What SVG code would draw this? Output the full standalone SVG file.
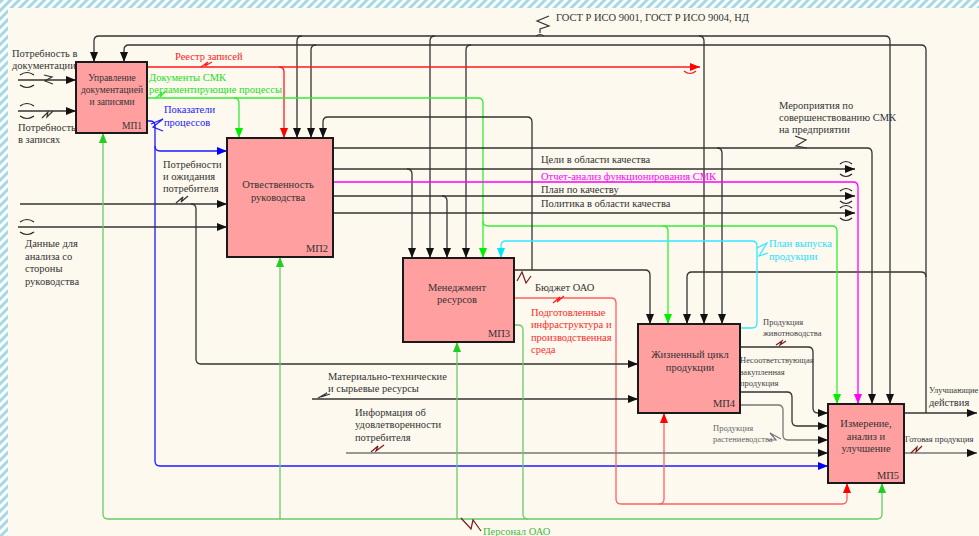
<svg xmlns="http://www.w3.org/2000/svg" width="979" height="536" viewBox="0 0 979 536">
<defs>
<pattern id="hatch" patternUnits="userSpaceOnUse" width="6" height="6" patternTransform="rotate(45)"><rect width="6" height="6" fill="#ffffff"/><line x1="1.5" y1="0" x2="1.5" y2="6" stroke="#a6d9e6" stroke-width="3"/></pattern>
<marker id="ak" viewBox="0 0 10 8" refX="10" refY="4" markerWidth="10" markerHeight="8" markerUnits="userSpaceOnUse" orient="auto"><path d="M0,0L10,4L0,8z" fill="#111"/></marker>
<marker id="ar" viewBox="0 0 10 8" refX="10" refY="4" markerWidth="10" markerHeight="8" markerUnits="userSpaceOnUse" orient="auto"><path d="M0,0L10,4L0,8z" fill="#ff0000"/></marker>
<marker id="ag" viewBox="0 0 10 8" refX="10" refY="4" markerWidth="10" markerHeight="8" markerUnits="userSpaceOnUse" orient="auto"><path d="M0,0L10,4L0,8z" fill="#00ee00"/></marker>
<marker id="ag2" viewBox="0 0 10 8" refX="10" refY="4" markerWidth="10" markerHeight="8" markerUnits="userSpaceOnUse" orient="auto"><path d="M0,0L10,4L0,8z" fill="#22cc22"/></marker>
<marker id="ab" viewBox="0 0 10 8" refX="10" refY="4" markerWidth="10" markerHeight="8" markerUnits="userSpaceOnUse" orient="auto"><path d="M0,0L10,4L0,8z" fill="#0000ff"/></marker>
<marker id="am" viewBox="0 0 10 8" refX="10" refY="4" markerWidth="10" markerHeight="8" markerUnits="userSpaceOnUse" orient="auto"><path d="M0,0L10,4L0,8z" fill="#ff00ff"/></marker>
<marker id="ac" viewBox="0 0 10 8" refX="10" refY="4" markerWidth="10" markerHeight="8" markerUnits="userSpaceOnUse" orient="auto"><path d="M0,0L10,4L0,8z" fill="#00e5ff"/></marker>
</defs>
<style>
.t{font-family:"Liberation Serif",serif;font-size:10.5px;fill:#333}
.bt{font-family:"Liberation Serif",serif;font-size:10.5px;fill:#333;text-anchor:middle}
.sm{font-size:9.5px}
.s{font-size:8.5px;fill:#444}
.e{font-size:8.5px}
.box{fill:#ff9f9f;stroke:#1a1a1a;stroke-width:2}
.c{fill:none;stroke-width:1.3}
.k{stroke:#333}
.kg{stroke:#777}
.r{stroke:#ff1a1a}
.rl{stroke:#ff6060}
.g{stroke:#33ee33}
.g2{stroke:#66cc66}
.b{stroke:#1a1aff}
.m{stroke:#ff00ff}
.cy{stroke:#33e8ff}
.sq{fill:none;stroke-width:1.2}
.tn{fill:none;stroke:#222;stroke-width:1.2}
</style>
<rect x="0" y="0" width="979" height="536" fill="#fdf9ef"/>
<rect x="0" y="0" width="979" height="8" fill="url(#hatch)"/>
<rect x="0" y="0" width="8" height="536" fill="url(#hatch)"/>

<g id="connectors">
<!-- ГОСТ control -->
<path class="c k" d="M540,36 H99 Q94,36 94,41 V62" marker-end="url(#ak)"/>
<path class="c k" d="M540,36 H885 Q890,36 890,41 V404" marker-end="url(#ak)"/>
<path class="c k" d="M302,36 Q297,36 297,41 V138" marker-end="url(#ak)"/>
<path class="c k" d="M435,36 Q430,36 430,41 V258" marker-end="url(#ak)"/>
<path class="c k" d="M699,36 Q704,36 704,41 V324" marker-end="url(#ak)"/>
<path class="sq k" d="M549,16 L537,21 L549,26 L540,29 V33 M536,36 Q540,33 544,36"/>
<!-- feedback: Улучшающие действия -->
<path class="c k" d="M904,413 H977" marker-end="url(#ak)"/>
<path class="c k" d="M926,413 V50 Q926,45 921,45 H129 Q124,45 124,50 V62" marker-end="url(#ak)"/>
<path class="c k" d="M316,45 Q311,45 311,50 V138" marker-end="url(#ak)"/>
<path class="c k" d="M471,45 Q466,45 466,50 V258" marker-end="url(#ak)"/>
<path class="c k" d="M926,277 Q926,272 921,272 H692 Q687,272 687,277 V324" marker-end="url(#ak)"/>
<!-- Реестр записей -->
<path class="c r" d="M147,67 H279 Q284,67 284,72 V138" marker-end="url(#ar)"/>
<path class="c r" d="M279,67 H700" marker-end="url(#ar)"/>
<path class="sq r" d="M684,71 Q690,76 696,71"/>
<path class="sq r" d="M201,67 L208,62 L205,66 L212,62"/>
<!-- Документы СМК -->
<path class="c g" d="M147,98 H478 Q483,98 483,103 V258" marker-end="url(#ag)"/>
<path class="c g" d="M234,98 Q239,98 239,103 V138" marker-end="url(#ag)"/>
<path class="c g" d="M483,221 Q483,226 488,226 H832 Q837,226 837,231 V404" marker-end="url(#ag)"/>
<path class="c g" d="M663,226 Q668,226 668,231 V324" marker-end="url(#ag)"/>
<path class="sq g" d="M156,98 L162,92 L160,97 L166,91"/>
<!-- Показатели процессов -->
<path class="c b" d="M147,121 H150 Q155,121 155,126 V461 Q155,466 160,466 H828" marker-end="url(#ab)"/>
<path class="c b" d="M155,146 Q155,151 160,151 H227" marker-end="url(#ab)"/>
<path class="sq b" d="M151,124 L163,119 L153,127 L163,131"/>
<!-- outputs of МП2 -->
<path class="c k" d="M333,148 H867 Q872,148 872,153 V404" marker-end="url(#ak)"/>
<path class="c k" d="M717,148 Q722,148 722,153 V324" marker-end="url(#ak)"/>
<path class="sq k" d="M795,136 L806,140 L796,146 L807,148"/>
<path class="c k" d="M333,169 H855" marker-end="url(#ak)"/>
<path class="c k" d="M407,169 Q412,169 412,174 V258" marker-end="url(#ak)"/>
<path class="c m" d="M333,182 H853 Q858,182 858,187 V404" marker-end="url(#am)"/>
<path class="c k" d="M333,196 H855" marker-end="url(#ak)"/>
<path class="c k" d="M442,196 Q447,196 447,201 V258" marker-end="url(#ak)"/>
<path class="c k" d="M333,213 H855" marker-end="url(#ak)"/>
<path class="tn" d="M840,164 Q846,159 852,164 M840,174 Q846,179 852,174"/>
<path class="tn" d="M840,191 Q846,186 852,191 M840,201 Q846,206 852,201"/>
<path class="tn" d="M840,208 Q846,203 852,208 M840,218 Q846,223 852,218"/>
<!-- Бюджет ОАО -->
<path class="c k" d="M514,270 H645 Q650,270 650,275 V324" marker-end="url(#ak)"/>
<path class="c k" d="M532,270 V122 Q532,117 527,117 H328 Q323,117 323,122 V138" marker-end="url(#ak)"/>
<path class="sq" stroke="#7a1a1a" d="M517,281 L522,272 L526,283 L531,276"/>
<!-- Подготовленные инфраструктура -->
<path class="c rl" d="M514,298 H611 Q616,298 616,303 V499 Q616,504 621,504 H842 Q847,504 847,499 V483" marker-end="url(#ar)"/>
<path class="c rl" d="M659,504 Q664,504 664,499 V413" marker-end="url(#ar)"/>
<path class="sq r" d="M553,303 L560,297 L557,302 L564,296"/>
<!-- План выпуска продукции -->
<path class="c cy" d="M740,328 H752 Q757,328 757,323 V246 Q757,241 752,241 H506 Q501,241 501,246 V258" marker-end="url(#ac)"/>
<path class="sq cy" d="M757,248 L767,243 L759,256 L768,253"/>
<!-- left inputs -->
<path class="c k" d="M18,80 H76" marker-end="url(#ak)"/>
<path class="tn" d="M20,75 Q27,70 34,75 M20,85 Q27,90 34,85"/>
<path class="sq k" d="M44,75 L52,77 L45,81 L53,84"/>
<path class="c k" d="M18,111 H76" marker-end="url(#ak)"/>
<path class="tn" d="M20,106 Q27,101 34,106 M20,116 Q27,121 34,116"/>
<path class="sq k" d="M42,118 L48,112 L47,117 L53,111"/>
<path class="c k" d="M20,204 H227" marker-end="url(#ak)"/>
<path class="c k" d="M191,204 Q196,204 196,209 V359 Q196,364 201,364 H638" marker-end="url(#ak)"/>
<path class="sq k" d="M176,203 L183,197 L181,202 L188,196"/>
<path class="c k" d="M18,227 H227" marker-end="url(#ak)"/>
<path class="tn" d="M20,222 Q27,217 34,222 M20,232 Q27,237 34,232"/>
<path class="c k" d="M312,399 H638" marker-end="url(#ak)"/>
<path class="sq k" d="M318,398 L327,393 L321,397 L330,394"/>
<path class="c kg" stroke-width="1.8" d="M346,453 H828" marker-end="url(#ak)"/>
<path class="sq" stroke="#7a1a1a" d="M371,452 L378,446 L376,451 L384,445"/>
<!-- МП4 outputs to МП5 -->
<path class="c k" d="M740,347 H808 Q813,347 813,352 V408 Q813,413 818,413 H828" marker-end="url(#ak)"/>
<path class="sq" stroke="#7a1a1a" d="M776,345 L782,341 L780,345 L786,341"/>
<path class="c k" d="M740,392 H787 Q792,392 792,397 V421 Q792,426 797,426 H828" marker-end="url(#ak)"/>
<path class="c kg" d="M740,405 H778 Q783,405 783,410 V435 Q783,440 788,440 H828" marker-end="url(#ak)"/>
<path class="sq kg" d="M768,440 L776,440 L770,433 L781,439"/>
<!-- output Готовая продукция -->
<path class="c kg" stroke-width="1.8" d="M904,453 H977" marker-end="url(#ak)"/>
<path class="sq" stroke="#7a1a1a" d="M911,453 L917,447 L916,452 L922,446"/>
<!-- Персонал ОАО -->
<path class="c g2" d="M457,519 H108 Q103,519 103,514 V133" marker-end="url(#ag2)"/>
<path class="c g2" d="M280,519 V257" marker-end="url(#ag2)"/>
<path class="c g2" d="M457,519 V342" marker-end="url(#ag2)"/>
<path class="c g2" d="M457,519 H877 Q882,519 882,514 V483" marker-end="url(#ag2)"/>
<path class="c g2" d="M514,325 H518 Q523,325 523,330 V514 Q523,519 528,519"/>
<path class="sq" stroke="#7a1a1a" d="M461,518 L471,529 L473,520 L481,531"/>
</g>

<g id="labels">
<text class="t" x="556" y="21">ГОСТ Р ИСО 9001, ГОСТ Р ИСО 9004, НД</text>
<text class="t" x="12" y="57">Потребность в</text>
<text class="t" x="12" y="69">документации</text>
<text class="t" x="18" y="131">Потребность</text>
<text class="t" x="18" y="143">в записях</text>
<text class="t" x="25" y="247">Данные для</text>
<text class="t" x="25" y="260">анализа со</text>
<text class="t" x="25" y="272">стороны</text>
<text class="t" x="25" y="285">руководства</text>
<text class="t" x="175" y="60" style="fill:#ff1a1a">Реестр записей</text>
<text class="t" x="149" y="81" style="fill:#22dd22">Документы СМК</text>
<text class="t" x="149" y="93" style="fill:#22dd22">регламентирующие процессы</text>
<text class="t" x="164" y="113" style="fill:#1a1aff">Показатели</text>
<text class="t" x="164" y="126" style="fill:#1a1aff">процессов</text>
<text class="t" x="163" y="168">Потребности</text>
<text class="t" x="163" y="180">и ожидания</text>
<text class="t" x="163" y="192">потребителя</text>
<text class="t" x="541" y="163">Цели в области качества</text>
<text class="t" x="541" y="180" style="fill:#ff00ff">Отчет-анализ функционирования СМК</text>
<text class="t" x="541" y="193">План по качеству</text>
<text class="t" x="541" y="207">Политика в области качества</text>
<text class="t" x="779" y="109">Мероприятия по</text>
<text class="t" x="779" y="121">совершенствованию СМК</text>
<text class="t" x="779" y="133">на предприятии</text>
<text class="t" x="769" y="247" style="fill:#22e0ff">План выпуска</text>
<text class="t" x="769" y="260" style="fill:#22e0ff">продукции</text>
<text class="t" x="535" y="291">Бюджет ОАО</text>
<text class="t" x="531" y="316" style="fill:#ff2a2a">Подготовленные</text>
<text class="t" x="531" y="328" style="fill:#ff2a2a">инфраструктура и</text>
<text class="t" x="531" y="341" style="fill:#ff2a2a">производственная</text>
<text class="t" x="531" y="353" style="fill:#ff2a2a">среда</text>
<text class="t s" x="763" y="325">Продукция</text>
<text class="t s" x="763" y="336">животноводства</text>
<text class="t s" x="740" y="363">Несоответствующая</text>
<text class="t s" x="740" y="375">закупленная</text>
<text class="t s" x="740" y="386">продукция</text>
<text class="t s" x="713" y="431" style="fill:#666">Продукция</text>
<text class="t s" x="713" y="442" style="fill:#666">растениеводства</text>
<text class="t" x="328" y="380">Материально-технические</text>
<text class="t" x="328" y="392">и сырьевые ресурсы</text>
<text class="t" x="355" y="416">Информация об</text>
<text class="t" x="355" y="428">удовлетворенности</text>
<text class="t" x="355" y="441">потребителя</text>
<text class="t" x="483" y="535" style="fill:#44bb44">Персонал ОАО</text>
<text class="t e" x="929" y="393">Улучшающие</text>
<text class="t" x="929" y="406">действия</text>
<text class="t e" x="905" y="442">Готовая продукция</text>
</g>

<g id="mp1">
<rect class="box" x="76" y="62" width="71" height="71"/>
<text class="bt sm" x="112" y="81">Управление</text>
<text class="bt sm" x="112" y="93">документацией</text>
<text class="bt sm" x="112" y="105">и записями</text>
<text class="bt sm" x="132" y="129">МП1</text>
</g>
<g id="mp2">
<rect class="box" x="227" y="138" width="106" height="119"/>
<text class="bt" x="278" y="188">Отвественность</text>
<text class="bt" x="278" y="201">руководства</text>
<text class="bt" x="317" y="252">МП2</text>
</g>
<g id="mp3">
<rect class="box" x="403" y="258" width="111" height="84"/>
<text class="bt" x="457" y="291">Менеджмент</text>
<text class="bt" x="457" y="303">ресурсов</text>
<text class="bt" x="499" y="337">МП3</text>
</g>
<g id="mp4">
<rect class="box" x="638" y="324" width="102" height="89"/>
<text class="bt" x="690" y="358">Жизненный цикл</text>
<text class="bt" x="690" y="371">продукции</text>
<text class="bt" x="724" y="407">МП4</text>
</g>
<g id="mp5">
<rect class="box" x="828" y="404" width="76" height="79"/>
<text class="bt" x="866" y="427">Измерение,</text>
<text class="bt" x="866" y="440">анализ и</text>
<text class="bt" x="866" y="452">улучшение</text>
<text class="bt" x="888" y="479">МП5</text>
</g>
</svg>
